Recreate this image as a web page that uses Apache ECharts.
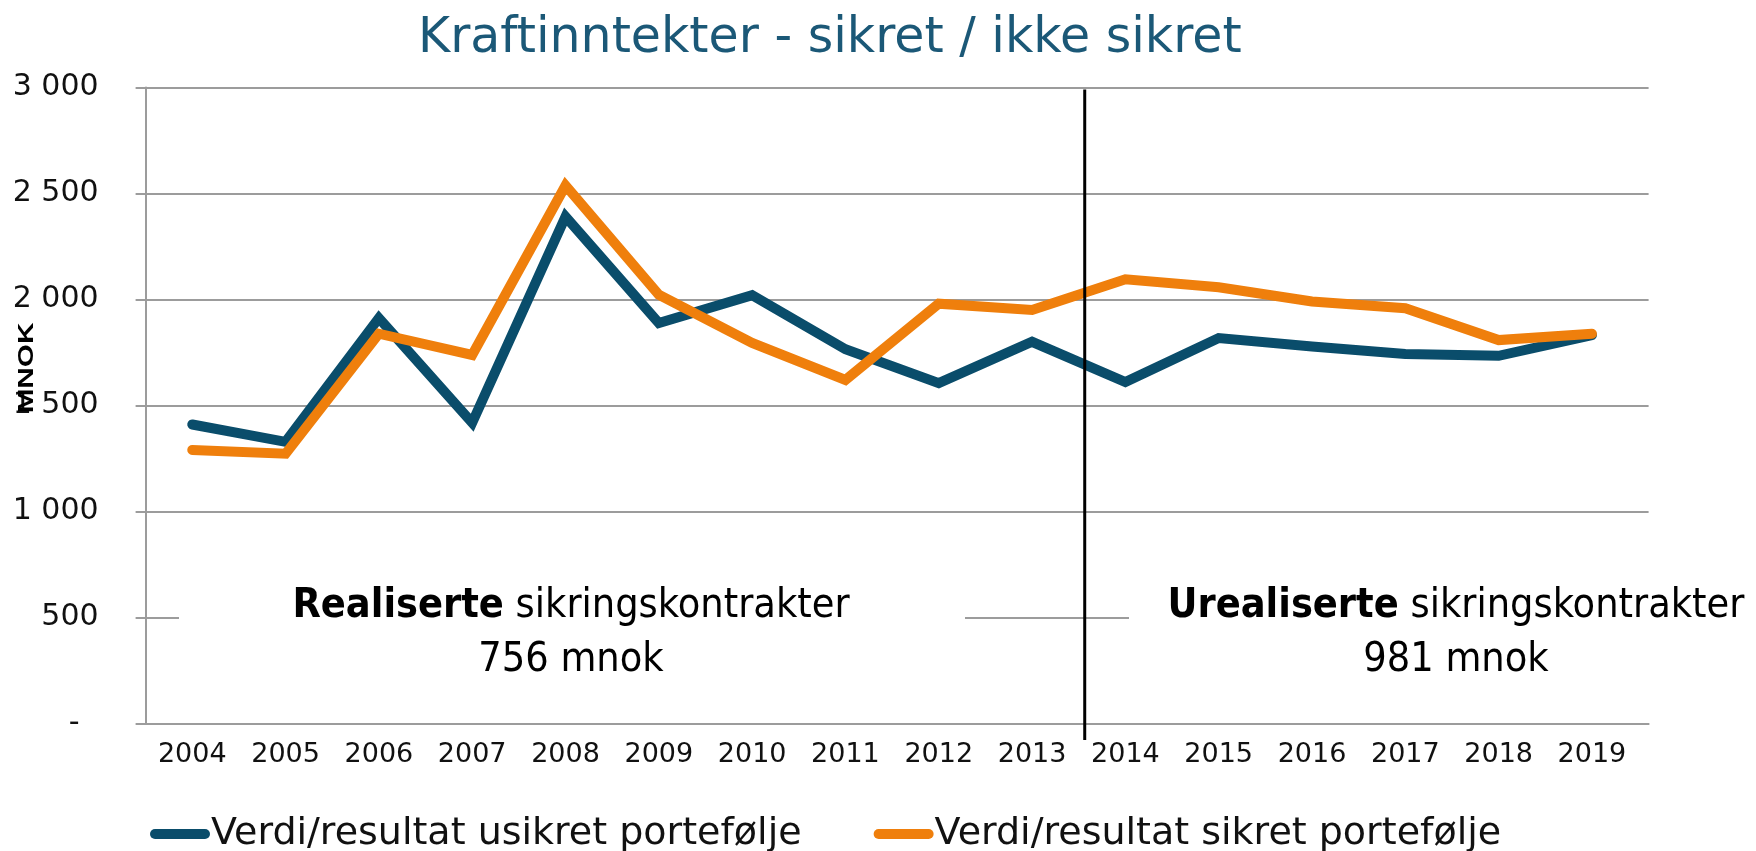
<!DOCTYPE html>
<html>
<head>
<meta charset="utf-8">
<script src="https://cdn.jsdelivr.net/npm/echarts@6/dist/echarts.min.js"></script>
<style>
  html, body { margin: 0; padding: 0; background: #fff; }
  #chart { width: 1756px; height: 851px; }
</style>
</head>
<body>
<div id="chart"></div>
<script>
// values (MNOK)
const years = ['2004', '2005', '2006', '2007', '2008', '2009', '2010', '2011',
               '2012', '2013', '2014', '2015', '2016', '2017', '2018', '2019'];
const usikret = [1410, 1328, 1912, 1418, 2390, 1888, 2020, 1765, 1605, 1800, 1610, 1818, 1778, 1742, 1734, 1832];
const sikret = [1290, 1272, 1838, 1738, 2537, 2022, 1795, 1620, 1980, 1950, 2095, 2057, 1990, 1958, 1808, 1838];
const seriesNames = ['Verdi/resultat usikret portefølje', 'Verdi/resultat sikret portefølje'];
const yMax = 3000;
const yStep = 500;

const blue = '#0a4d6b';
const orange = '#ef7f0c';
const gridGrey = '#9c9c9c';
const verdana = "'DejaVu Sans', Verdana, sans-serif";
const calibri = "'Liberation Sans Narrow', 'DejaVu Sans Condensed', 'Noto Sans', sans-serif";

const chart = echarts.init(document.getElementById('chart'));

function fmtTick(v) {
    if (v === 0) return '-\u00a0\u00a0';
    return String(v).replace(/\B(?=(\d{3})+(?!\d))/g, ' ');
}

const capsule = 'path://M5,0 H55 A5,5 0 0 1 55,10 H5 A5,5 0 0 1 5,0 Z';

chart.setOption({
    animation: false,
    backgroundColor: '#fff',
    title: {
        text: 'Kraftinntekter - sikret / ikke sikret',
        left: 413,
        top: 10,
        textStyle: {
            fontFamily: verdana,
            fontSize: 49,
            fontWeight: 'normal',
            color: '#1b5877'
        }
    },
    legend: {
        left: 145,
        top: 810,
        itemGap: 72,
        itemWidth: 60,
        itemHeight: 10,
        textStyle: { fontFamily: verdana, fontSize: 38, color: '#111', padding: [0, 0, 0, -4] },
        data: [
            { name: seriesNames[0], icon: capsule, itemStyle: { color: blue } },
            { name: seriesNames[1], icon: capsule, itemStyle: { color: orange } }
        ]
    },
    grid: [
        { left: 145.6, top: 87.4, width: 1493, height: 636 },
        { left: 145.6, top: 87.4, width: 1503, height: 636 }
    ],
    xAxis: [{
        type: 'category',
        gridIndex: 0,
        data: years,
        boundaryGap: true,
        axisLine: { show: false },
        axisTick: { show: false },
        axisLabel: { fontFamily: verdana, fontSize: 27, color: '#111', margin: 18 }
    }, {
        type: 'value',
        gridIndex: 1,
        min: 0,
        max: 1,
        axisLine: { show: true, lineStyle: { color: gridGrey, width: 2 } },
        axisTick: { show: false },
        axisLabel: { show: false },
        splitLine: { show: false }
    }],
    yAxis: [{
        type: 'value',
        gridIndex: 0,
        min: 0,
        max: yMax,
        interval: yStep,
        axisLine: { show: true, lineStyle: { color: gridGrey, width: 2 } },
        axisTick: { show: true, length: 10, lineStyle: { color: gridGrey, width: 2 } },
        axisLabel: { fontFamily: verdana, fontSize: 30, color: '#111', margin: 47, formatter: fmtTick },
        splitLine: { show: false }
    }, {
        type: 'value',
        gridIndex: 1,
        min: 0,
        max: yMax,
        interval: yStep,
        axisLine: { show: false },
        axisTick: { show: false },
        axisLabel: { show: false },
        splitLine: { show: true, lineStyle: { color: gridGrey, width: 2 } }
    }],
    series: [{
        name: seriesNames[0],
        type: 'line',
        data: usikret,
        symbol: 'none',
        z: 3,
        lineStyle: { color: blue, width: 10, cap: 'round', join: 'miter' },
        itemStyle: { color: blue }
    }, {
        name: seriesNames[1],
        type: 'line',
        data: sikret,
        symbol: 'none',
        z: 4,
        lineStyle: { color: orange, width: 10, cap: 'round', join: 'miter' },
        itemStyle: { color: orange }
    }]
});

// annotations placed from the axes
const x2013 = chart.convertToPixel({ xAxisIndex: 0 }, '2013');
const x2014 = chart.convertToPixel({ xAxisIndex: 0 }, '2014');
const divX = (x2013 + x2014) / 2 + 6;
const yTop = chart.convertToPixel({ yAxisIndex: 0 }, yMax);

const boxFont = { fontFamily: calibri, fontSize: 41, fill: '#000' };
function boxText(x, y, boldWord, rest) {
    return {
        type: 'text', z: 101, x: x, y: y,
        style: {
            text: '{b|' + boldWord + '}{n|\u00a0' + rest + '}',
            align: 'center', verticalAlign: 'middle',
            rich: {
                b: Object.assign({}, boxFont, { fontWeight: 'bold' }),
                n: boxFont
            }
        }
    };
}
function plainText(x, y, t) {
    return {
        type: 'text', z: 101, x: x, y: y,
        style: Object.assign({ text: t, align: 'center', verticalAlign: 'middle' }, boxFont)
    };
}

chart.setOption({
    graphic: [
        { type: 'rect', z: 100, shape: { x: 179, y: 578, width: 786, height: 115 }, style: { fill: '#fff' } },
        { type: 'rect', z: 100, shape: { x: 1129, y: 578, width: 640, height: 115 }, style: { fill: '#fff' } },
        boxText(571, 606, 'Realiserte', 'sikringskontrakter'),
        plainText(571, 660, '756 mnok'),
        boxText(1456, 606, 'Urealiserte', 'sikringskontrakter'),
        plainText(1456, 660, '981 mnok'),
        {
            type: 'line', z: 102,
            shape: { x1: divX, y1: yTop + 2, x2: divX, y2: 740 },
            style: { stroke: '#000', lineWidth: 3 }
        },
        {
            type: 'text', z: 102, x: 27, y: 368, rotation: Math.PI / 2, scaleX: 1.35,
            style: {
                text: 'MNOK', align: 'center', verticalAlign: 'middle',
                fontFamily: "'Liberation Sans', Arial, sans-serif", fontSize: 22, fontWeight: 'bold', fill: '#000'
            }
        }
    ]
});
</script>
</body>
</html>
